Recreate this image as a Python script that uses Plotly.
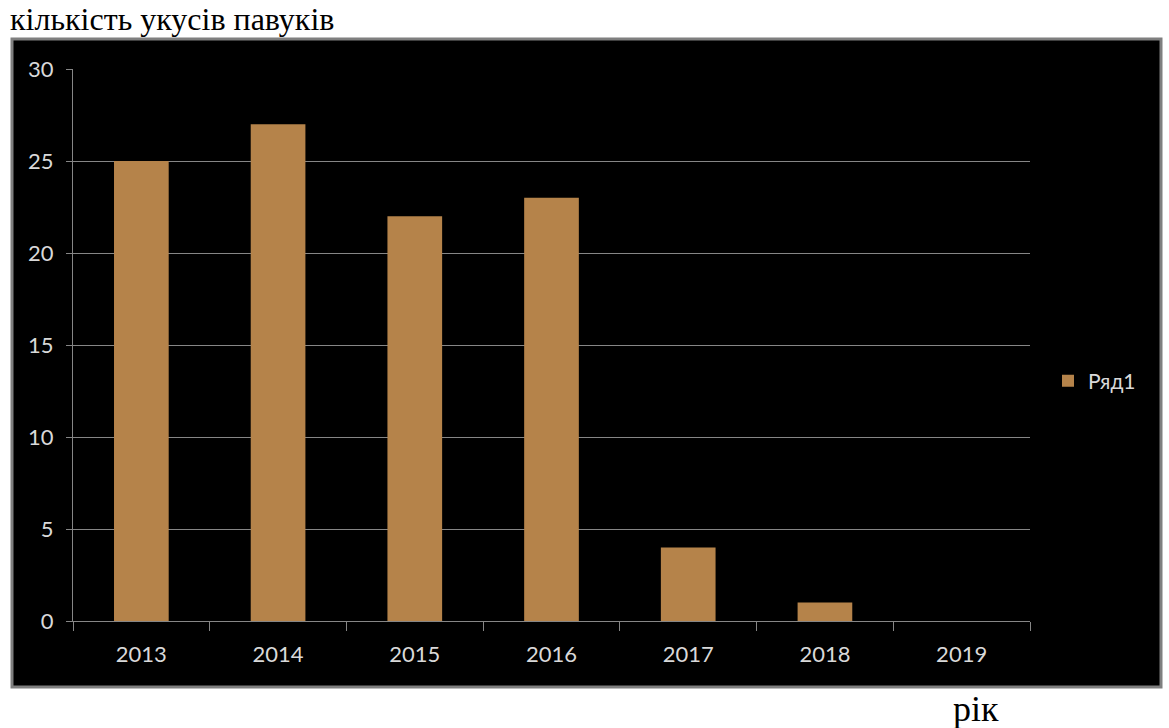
import plotly.graph_objects as go

# Spider bite counts per year
years = ["2013", "2014", "2015", "2016", "2017", "2018", "2019"]
bites = [25, 27, 22, 23, 4, 1, 0]
series_name = "Ряд1"
y_ticks = [0, 5, 10, 15, 20, 25, 30]

W, H = 1169, 728
ML, MR, MT, MB = 73, 139, 69, 107
pw, ph = W - ML - MR, H - MT - MB


def px_x(x):
    return (x - ML) / pw


def px_y(y):
    return (H - MB - y) / ph


bar_color = "#B5834A"
grid_color = "#868686"
label_color = "#D9D9D9"
tick_font = dict(family="Lato", size=22, color=label_color)

fig = go.Figure()
fig.add_trace(go.Bar(
    x=years, y=bites, name=series_name,
    marker=dict(color=bar_color, line=dict(width=0)),
    width=0.4,
))

# black chart frame around the plot area
fig.add_shape(
    type="rect", xref="paper", yref="paper", layer="below",
    x0=px_x(12), x1=px_x(1161), y0=px_y(687), y1=px_y(39),
    fillcolor="black", line=dict(color="#7F7F7F", width=3),
)

fig.update_layout(
    width=W, height=H,
    margin=dict(l=ML, r=MR, t=MT, b=MB, pad=0),
    paper_bgcolor="white", plot_bgcolor="black",
    showlegend=True,
    legend=dict(
        x=px_x(1048), y=px_y(381), xanchor="left", yanchor="middle",
        bgcolor="rgba(0,0,0,0)", font=dict(family="Lato", size=21, color=label_color),
    ),
    xaxis=dict(
        type="category", showgrid=False, showline=True,
        linecolor=grid_color, linewidth=1,
        ticks="outside", tickson="boundaries", ticklen=9, tickcolor=grid_color,
        tickfont=tick_font, zeroline=False, ticklabelstandoff=14,
    ),
    yaxis=dict(
        range=[0, 30], tickvals=y_ticks, showgrid=True, gridcolor=grid_color,
        gridwidth=1, showline=True, linecolor=grid_color, linewidth=1,
        ticks="outside", ticklen=6, tickcolor=grid_color,
        tickfont=tick_font, zeroline=False, ticklabelstandoff=8,
    ),
    annotations=[
        dict(text="кількість укусів павуків", xref="paper", yref="paper",
             x=px_x(8), y=px_y(39), xanchor="left", yanchor="bottom",
             showarrow=False,
             font=dict(family="Liberation Serif", size=32, color="black")),
        dict(text="рік", xref="paper", yref="paper",
             x=px_x(976), y=px_y(731), xanchor="center", yanchor="bottom",
             showarrow=False,
             font=dict(family="Liberation Serif", size=36, color="black")),
    ],
)

fig.write_html("out.html")
